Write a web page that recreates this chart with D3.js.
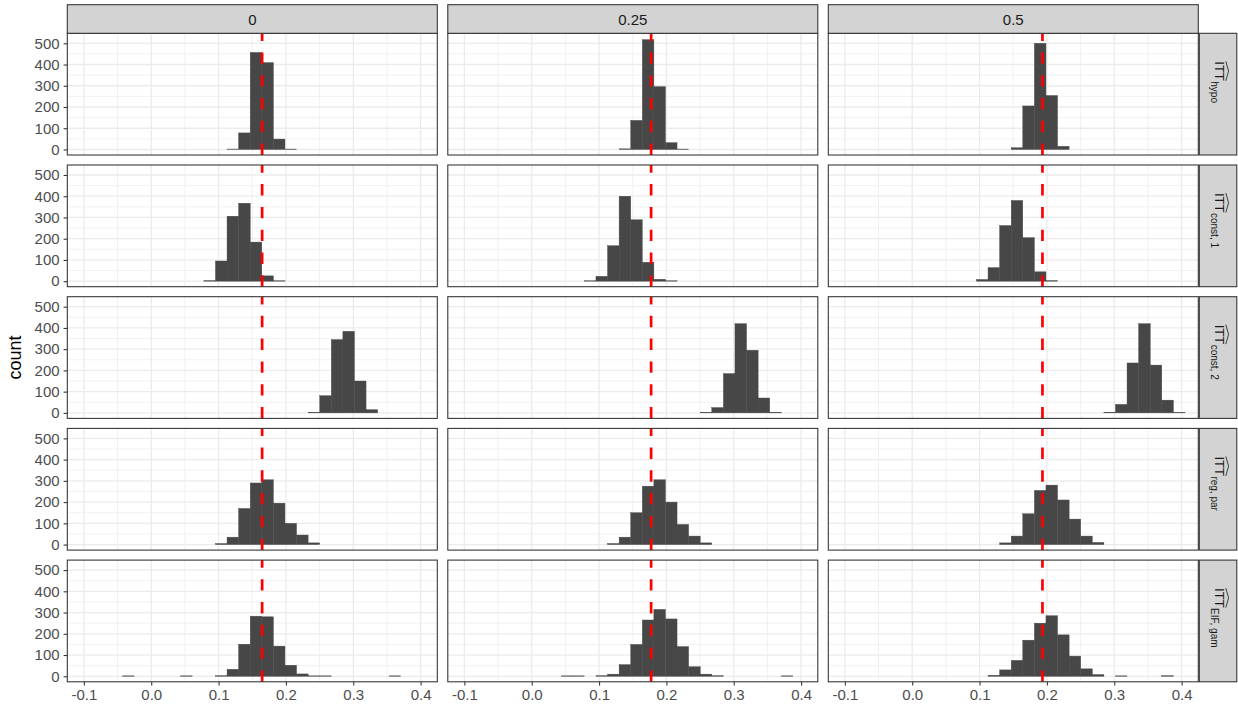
<!DOCTYPE html>
<html lang="en">
<head>
<meta charset="UTF-8">
<title>Sampling distributions of ITT estimators</title>
<style>
  body { margin: 0; background: #fff; }
  svg text { font-family: "Liberation Sans", Arial, sans-serif; }
</style>
</head>
<body>
<div id="chart"></div>
<script src="https://d3js.org/d3.v7.min.js"></script>
<script>
// facet labels
const colLabels = ["0", "0.25", "0.5"];
const rowSubs = ["hypo", "const, 1", "const, 2", "reg, par", "EIF, gam"];
// true value per column (dashed red line)
const truth = [0.1647, 0.1773, 0.1934];
const xTicks = [-0.1, 0, 0.1, 0.2, 0.3, 0.4];
const yTicks = [0, 100, 200, 300, 400, 500];

// histogram bin edges (30 bins, shared by all panels)
const breaks = [-0.1110, -0.0938, -0.0766, -0.0594, -0.0422, -0.0250, -0.0078, 0.0094,
  0.0266, 0.0438, 0.0610, 0.0782, 0.0954, 0.1126, 0.1298, 0.1470, 0.1642, 0.1814,
  0.1986, 0.2158, 0.2330, 0.2502, 0.2674, 0.2846, 0.3018, 0.3190, 0.3362, 0.3534,
  0.3706, 0.3878, 0.4050];

// counts per bin, one array per column (0, 0.25, 0.5)
const countsHypo = [
  [0,0,0,0,0,0,0,0,0,0, 0,0,0,2,78,457,409,49,2,0, 0,0,0,0,0,0,0,0,0,0],
  [0,0,0,0,0,0,0,0,0,0, 0,0,0,0,3,137,517,296,32,2, 0,0,0,0,0,0,0,0,0,0],
  [0,0,0,0,0,0,0,0,0,0, 0,0,0,0,0,8,205,500,254,15, 0,0,0,0,0,0,0,0,0,0]
];
const countsConst1 = [
  [0,0,0,0,0,0,0,0,0,0, 0,3,95,306,367,184,25,2,0,0, 0,0,0,0,0,0,0,0,0,0],
  [0,0,0,0,0,0,0,0,0,0, 0,2,23,167,400,289,89,9,2,0, 0,0,0,0,0,0,0,0,0,0],
  [0,0,0,0,0,0,0,0,0,0, 0,0,8,64,262,380,205,44,3,0, 0,0,0,0,0,0,0,0,0,0]
];
const countsConst2 = [
  [0,0,0,0,0,0,0,0,0,0, 0,0,0,0,0,0,0,0,0,0, 3,81,345,384,150,15,0,0,0,0],
  [0,0,0,0,0,0,0,0,0,0, 0,0,0,0,0,0,0,0,0,0, 0,3,25,185,420,295,70,3,0,0],
  [0,0,0,0,0,0,0,0,0,0, 0,0,0,0,0,0,0,0,0,0, 0,0,0,3,40,235,420,225,60,2]
];
const countsRegPar = [
  [0,0,0,0,0,0,0,0,0,0, 0,0,5,35,170,290,305,195,100,45, 8,0,0,0,0,0,0,0,0,0],
  [0,0,0,0,0,0,0,0,0,0, 0,0,0,5,35,150,275,305,200,95, 40,8,0,0,0,0,0,0,0,0],
  [0,0,0,0,0,0,0,0,0,0, 0,0,0,0,8,40,145,255,280,210, 120,40,10,0,0,0,0,0,0,0]
];
const countsEifGam = [
  [0,0,0,0,2,0,0,0,0,2, 0,0,3,33,151,283,280,142,52,11, 2,2,0,0,0,0,0,2,0,0],
  [0,0,0,0,0,0,0,0,0,2, 2,0,3,10,55,150,265,315,270,140, 45,10,3,0,0,0,0,0,2,0],
  [0,0,0,0,0,0,0,0,0,0, 0,0,0,5,30,75,170,250,285,195, 95,35,8,0,2,0,0,0,3,0]
];
const counts = [countsHypo, countsConst1, countsConst2, countsRegPar, countsEifGam];

const W = 1238, H = 708;
const panelW = 370, panelH = 121.7;
const colX = c => 67.3 + c * 380.5;
const rowY = r => 33.3 + r * 131.7;
const fontSize = "15px";

const svg = d3.select("#chart").append("svg")
  .attr("width", W)
  .attr("height", H);

const x = d3.scaleLinear().domain([-0.1246, 0.4248]).range([0, panelW]);
const y = d3.scaleLinear().domain([-26, 547]).range([panelH, 0]);

const xMinor = [-0.05, 0.05, 0.15, 0.25, 0.35];
const yMinor = [50, 150, 250, 350, 450];

counts.forEach((rowCounts, r) => {
  rowCounts.forEach((binCounts, c) => {
    const g = svg.append("g")
      .attr("transform", `translate(${colX(c)},${rowY(r)})`);

    g.append("rect")
      .attr("width", panelW).attr("height", panelH)
      .attr("fill", "#fff");

    // grid
    g.selectAll(".xminor").data(xMinor).enter().append("line")
      .attr("x1", d => x(d)).attr("x2", d => x(d))
      .attr("y1", 0).attr("y2", panelH)
      .attr("stroke", "#ebebeb").attr("stroke-width", 0.7);
    g.selectAll(".yminor").data(yMinor).enter().append("line")
      .attr("x1", 0).attr("x2", panelW)
      .attr("y1", d => y(d)).attr("y2", d => y(d))
      .attr("stroke", "#ebebeb").attr("stroke-width", 0.7);
    g.selectAll(".xmajor").data(xTicks).enter().append("line")
      .attr("x1", d => x(d)).attr("x2", d => x(d))
      .attr("y1", 0).attr("y2", panelH)
      .attr("stroke", "#ebebeb").attr("stroke-width", 1.3);
    g.selectAll(".ymajor").data(yTicks).enter().append("line")
      .attr("x1", 0).attr("x2", panelW)
      .attr("y1", d => y(d)).attr("y2", d => y(d))
      .attr("stroke", "#ebebeb").attr("stroke-width", 1.3);

    // histogram bars
    const bins = binCounts.map((n, j) => ({x0: breaks[j], x1: breaks[j + 1], n}))
      .filter(d => d.n > 0);
    g.selectAll(".bar").data(bins).enter().append("rect")
      .attr("class", "bar")
      .attr("x", d => x(d.x0))
      .attr("width", d => x(d.x1) - x(d.x0))
      .attr("y", d => y(d.n))
      .attr("height", d => y(0) - y(d.n))
      .attr("fill", "#474747")
      .attr("stroke", "#474747")
      .attr("stroke-width", 0.4);

    // true value
    g.append("line")
      .attr("x1", x(truth[c])).attr("x2", x(truth[c]))
      .attr("y1", panelH).attr("y2", 0)
      .attr("stroke", "#ff0000")
      .attr("stroke-width", 2.7)
      .attr("stroke-dasharray", "11.4,11.4");

    g.append("rect")
      .attr("width", panelW).attr("height", panelH)
      .attr("fill", "none").attr("stroke", "#333").attr("stroke-width", 1.07);

    // y axis on the first column
    if (c === 0) {
      const ya = g.append("g")
        .call(d3.axisLeft(y).tickValues(yTicks).tickSize(3.7).tickPadding(4));
      ya.select(".domain").remove();
      ya.selectAll("line").attr("stroke", "#333").attr("stroke-width", 1.07);
      ya.selectAll("text")
        .attr("fill", "#4d4d4d")
        .style("font-size", fontSize)
        .style("font-family", "'Liberation Sans', Arial, sans-serif");
    }
    // x axis on the last row
    if (r === counts.length - 1) {
      const xa = g.append("g")
        .attr("transform", `translate(0,${panelH})`)
        .call(d3.axisBottom(x).tickValues(xTicks).tickSize(3.7).tickPadding(4)
          .tickFormat(d => d.toFixed(1)));
      xa.select(".domain").remove();
      xa.selectAll("line").attr("stroke", "#333").attr("stroke-width", 1.07);
      xa.selectAll("text")
        .attr("fill", "#4d4d4d")
        .style("font-size", fontSize)
        .style("font-family", "'Liberation Sans', Arial, sans-serif");
    }
  });
});

// top strips
colLabels.forEach((lab, c) => {
  svg.append("rect")
    .attr("x", colX(c)).attr("y", 4.7)
    .attr("width", panelW).attr("height", 28.6)
    .attr("fill", "#d3d3d3").attr("stroke", "#333").attr("stroke-width", 1.07);
  svg.append("text")
    .attr("x", colX(c) + panelW / 2).attr("y", 19.5)
    .attr("text-anchor", "middle")
    .attr("dominant-baseline", "central")
    .attr("fill", "#1a1a1a")
    .style("font-size", fontSize)
    .text(lab);
});

// right strips: ITT with wide hat and subscript
const stripX = colX(2) + panelW + 1;
rowSubs.forEach((sub, r) => {
  svg.append("rect")
    .attr("x", stripX).attr("y", rowY(r))
    .attr("width", 37.5).attr("height", panelH)
    .attr("fill", "#d3d3d3").attr("stroke", "#333").attr("stroke-width", 1.07);
  const lg = svg.append("g")
    .attr("transform", `translate(${stripX + 15.5},${rowY(r) + 28}) rotate(90)`);
  const main = lg.append("text")
    .attr("x", 0).attr("y", 0)
    .attr("fill", "#1a1a1a")
    .style("font-size", "13px")
    .text("ITT");
  const w = main.node().getComputedTextLength();
  lg.append("text")
    .attr("x", w + 0.5).attr("y", 3.5)
    .attr("fill", "#1a1a1a")
    .style("font-size", "10px")
    .text(sub);
  lg.append("path")
    .attr("d", `M0,-11 L${w / 2},-13.8 L${w},-11`)
    .attr("fill", "none")
    .attr("stroke", "#1a1a1a")
    .attr("stroke-width", 0.8);
});

// y axis title
svg.append("text")
  .attr("transform", `translate(15,${(rowY(0) + rowY(4) + panelH) / 2}) rotate(-90)`)
  .attr("text-anchor", "middle")
  .attr("dominant-baseline", "central")
  .attr("fill", "#000")
  .style("font-size", "18px")
  .text("count");
</script>
</body>
</html>
